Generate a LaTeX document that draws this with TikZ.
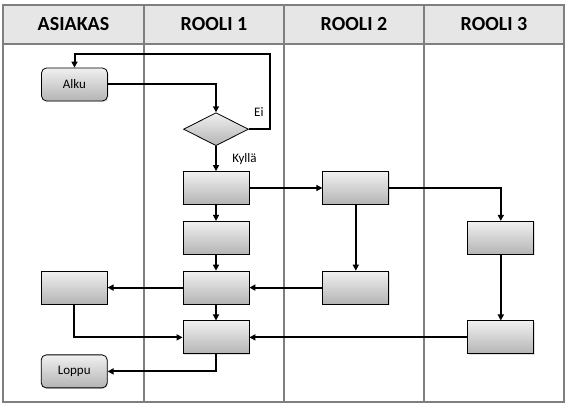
\documentclass[tikz,border=0pt]{standalone}
\usepackage{fontspec}
\setmainfont{Carlito}
\usepackage{tikz}
\usetikzlibrary{positioning}
\usetikzlibrary{shapes.geometric}
\usetikzlibrary{arrows.meta}
\usetikzlibrary{shadows}
\usepackage{xcolor}
\definecolor{headfill}{HTML}{E6E6E6}
\definecolor{lanegray}{HTML}{7F7F7F}
\definecolor{boxtop}{HTML}{F0F0F0}
\definecolor{boxbottom}{HTML}{B4B4B4}

\begin{document}
\begin{tikzpicture}[
		x=1pt, y=1pt,
		% Style definitions - sizes in pixels of the reference
		lane/.style={draw=lanegray, line width=1.5pt},
		header/.style={font=\bfseries\fontsize{20}{22}\selectfont},
		stepbox/.style={draw, line width=0.8pt, minimum width=66pt, minimum height=33pt, top color=boxtop, bottom color=boxbottom, drop shadow={opacity=0.25, shadow xshift=1pt, shadow yshift=-1pt}},
		terminal/.style={stepbox, rounded corners=5pt, font=\fontsize{13}{15}\selectfont},
		decision/.style={draw, line width=0.8pt, diamond, aspect=2, minimum width=65pt, minimum height=33pt, inner sep=0pt, top color=boxtop, bottom color=boxbottom},
		lbl/.style={font=\fontsize{13}{15}\selectfont},
		arrow/.style={-{Triangle[length=6pt, width=6pt]}, line width=2pt},
		node distance=16pt and 73pt,
		]
		\useasboundingbox (0,0) rectangle (568,406);

		% === Swimlane frame and header row ===
		\fill[headfill] (3,362) rectangle (564,401);
		\draw[lane] (3,4) rectangle (564,401);
		\draw[lane] (3,362) -- (564,362);
		\foreach \lx in {144, 284, 424}
			\draw[lane] (\lx,4) -- (\lx,401);
		\node[header] (h-asiakas) at (73.5,381.5) {ASIAKAS};
		\node[header] (h-rooli1) at (214,381.5) {ROOLI 1};
		\node[header] (h-rooli2) at (354,381.5) {ROOLI 2};
		\node[header] (h-rooli3) at (494,381.5) {ROOLI 3};

		% === Main column: ROOLI 1 ===
		\node[stepbox] (r1a) at (216,218) {};
		\node[decision, above=25pt of r1a] (choice) {};
		\node[stepbox, below=of r1a] (r1b) {};
		\node[stepbox, below=of r1b] (r1c) {};
		\node[stepbox, below=of r1c] (r1d) {};

		% === ASIAKAS column ===
		\node[terminal] (alku) at (74.5,321.5) {Alku};
		\node[stepbox, left=75pt of r1c] (asb) {};
		\node[terminal, below=50pt of asb] (loppu) {Loppu};

		% === ROOLI 2 and ROOLI 3 columns ===
		\node[stepbox, right=of r1a] (r2a) {};
		\node[stepbox, right=of r1c] (r2b) {};
		\node[stepbox, right=218pt of r1b] (r3a) {};
		\node[stepbox, right=218pt of r1d] (r3b) {};
		\coordinate (loop) at (270,352);

		% === Connections ===
		\draw[arrow] (alku) -| (choice);
		\draw[arrow] (choice.east) node[lbl, above right, xshift=1pt, yshift=8pt] {Ei} -| (loop) -| (alku.north);
		\draw[arrow] (choice) -- node[lbl, right=12pt] {Kyllä} (r1a);
		\draw[arrow] (r1a) -- (r1b);
		\draw[arrow] (r1b) -- (r1c);
		\draw[arrow] (r1c) -- (r1d);
		\draw[arrow] (r1a) -- (r2a);
		\draw[arrow] (r2a) -| (r3a);
		\draw[arrow] (r2a) -- (r2b);
		\draw[arrow] (r2b) -- (r1c);
		\draw[arrow] (r1c) -- (asb);
		\draw[arrow] (asb) |- (r1d);
		\draw[arrow] (r3a) -- (r3b);
		\draw[arrow] (r3b) -- (r1d);
		\draw[arrow] (r1d) |- (loppu);

	\end{tikzpicture}
\end{document}
